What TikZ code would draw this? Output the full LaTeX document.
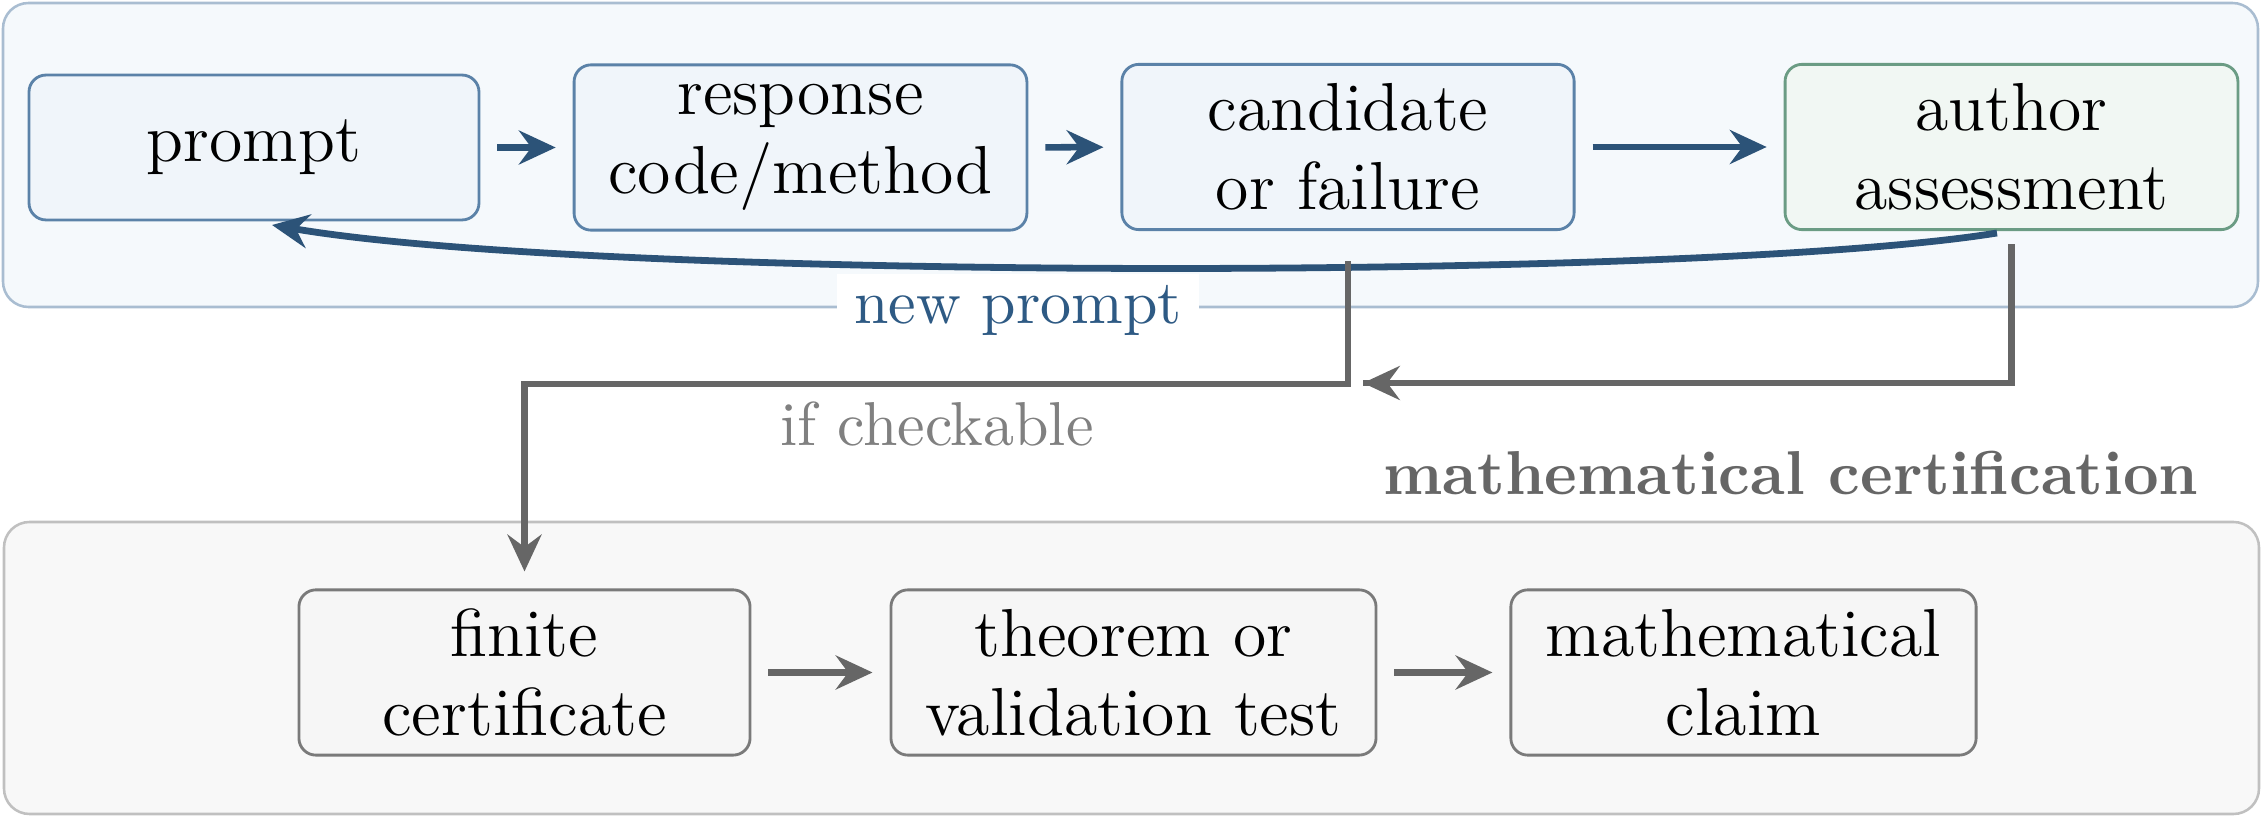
\documentclass[tikz,border=0pt]{standalone}
\usetikzlibrary{arrows.meta}
\definecolor{flowblue}{HTML}{2C5378}
\definecolor{labelblue}{HTML}{2E5A84}
\definecolor{boxblue}{HTML}{5B82A8}
\definecolor{boxbluefill}{HTML}{F0F5FA}
\definecolor{contblue}{HTML}{A9BDD1}
\definecolor{contbluefill}{HTML}{F5F9FC}
\definecolor{boxgreen}{HTML}{6B9C84}
\definecolor{boxgreenfill}{HTML}{F1F7F3}
\definecolor{flowgray}{HTML}{666666}
\definecolor{labelgray}{HTML}{808080}
\definecolor{contgray}{HTML}{C0C0C0}
\definecolor{contgrayfill}{HTML}{F8F8F8}
\definecolor{boxgray}{HTML}{7A7A7A}
\definecolor{boxgrayfill}{HTML}{F6F6F6}
\begin{document}
\begin{tikzpicture}[x=0.17667pt,y=-0.17667pt,
  boxfont/.style={font=\fontsize{12}{14}\selectfont},
  stagebox/.style={boxfont, draw=boxblue, fill=boxbluefill, line width=0.5pt,
    rounded corners=3pt, align=center, inner sep=2pt, minimum height=29.2pt},
  assessbox/.style={stagebox, draw=boxgreen, fill=boxgreenfill},
  certbox/.style={stagebox, draw=boxgray, fill=boxgrayfill},
  bluearrow/.style={draw=flowblue, line width=1.15pt,
    -{Stealth[length=6.5pt,width=6pt,inset=2.2pt]},
    shorten >=3pt, shorten <=3pt},
  grayarrow/.style={draw=flowgray, line width=1.15pt,
    -{Stealth[length=6.5pt,width=6pt,inset=2.2pt]},
    shorten >=3pt, shorten <=3pt},
  grayline/.style={draw=flowgray, line width=1.15pt},
  txtlabel/.style={font=\fontsize{10.95}{13.6}\selectfont, inner sep=0pt}
]
\useasboundingbox (0,0) rectangle (2262,816);

% containers
\draw[draw=contblue, fill=contbluefill, line width=0.45pt, rounded corners=4.5pt]
  (3,3) rectangle (2258,307);
\draw[draw=contgray, fill=contgrayfill, line width=0.45pt, rounded corners=4.5pt]
  (4,522) rectangle (2259,814);

% top row
\node[stagebox, minimum width=79.5pt, minimum height=25.6pt] (prompt) at (254,147.5) {prompt};
\node[stagebox, minimum width=80pt] (response) at (800.5,147.5) {response\\code/method};
\node[stagebox, minimum width=79.9pt] (cand) at (1348,147) {candidate\\or failure};
\node[assessbox, minimum width=80pt] (author) at (2011.5,147) {author\\assessment};

% bottom row
\node[certbox, minimum width=79.7pt] (finite) at (524.5,672.5) {finite\\certificate};
\node[certbox, minimum width=85.7pt] (theorem) at (1133.5,672.5) {theorem or\\validation test};
\node[certbox, minimum width=82.2pt] (claim) at (1743.5,672.5) {mathematical\\claim};

% top arrows
\draw[bluearrow] (prompt) -- (response);
\draw[bluearrow] (response) -- (cand);
\draw[bluearrow] (cand) -- (author);

% feedback curve
\coordinate (fbstart) at (1997,233);
\coordinate (fbend) at (272,225);
\draw[draw=flowblue, line width=1.2pt, -{Stealth[length=6.5pt,width=6pt,inset=2.2pt]}]
  (fbstart) .. controls (1700,281) and (600,281) .. (fbend);
\node[txtlabel, fill=white, text=labelblue, inner xsep=3pt, inner ysep=2pt] (newprompt) at (1018,310) {new prompt};

% gray connectors
\coordinate (merge) at (1363,383);
\draw[grayarrow] ([yshift=-2.3pt]cand.south) -- ++(0,140) -| (finite.north);
\draw[grayline] ([yshift=-2.3pt]author.south) |- (merge);
\draw[flowgray, line width=1.15pt, -{Stealth[length=6.5pt,width=6pt,inset=2.2pt]}]
  ([xshift=-1pt]merge -| author.south) -- (merge);

% labels
\node[txtlabel, text=labelgray] (ifcheck) at (937,424) {if checkable};
\node[txtlabel, text=flowgray, font=\fontsize{10.95}{13.6}\selectfont\bfseries] (certlabel) at (1791,472.5) {mathematical certification};

% bottom arrows
\draw[grayarrow] (finite) -- (theorem);
\draw[grayarrow] (theorem) -- (claim);
\end{tikzpicture}
\end{document}
